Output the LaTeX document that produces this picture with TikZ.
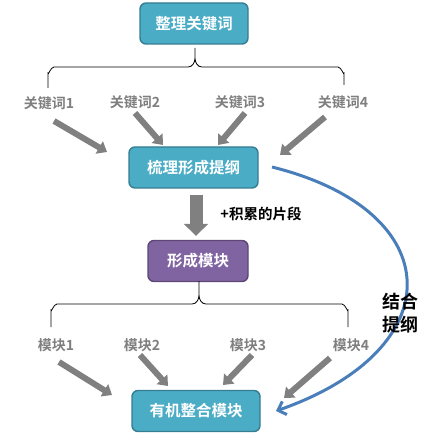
\documentclass[tikz,border=0pt]{standalone}
\usepackage{fontspec}
\setmainfont{Noto Sans CJK SC}[BoldFont={Noto Sans CJK SC Bold}]
\usetikzlibrary{arrows.meta}
\definecolor{tealfill}{HTML}{4BACC6}
\definecolor{tealline}{HTML}{357D91}
\definecolor{purfill}{HTML}{8064A2}
\definecolor{purline}{HTML}{5C4776}
\definecolor{grayarr}{HTML}{808080}
\definecolor{graytxt}{HTML}{7F7F7F}
\definecolor{bluecurve}{HTML}{4A7EBB}
\tikzset{
  box/.style={draw=tealline, fill=tealfill, line width=1.4pt, rounded corners=6pt,
    text=white, font=\bfseries\fontsize{15.5}{18}\selectfont, minimum height=41pt, inner sep=0pt},
  pbox/.style={box, draw=purline, fill=purfill},
  lbl/.style={text=graytxt, font=\bfseries\fontsize{14}{16}\selectfont, inner sep=0pt},
  garrow/.style={draw=grayarr, line width=6pt, -{Triangle[length=9pt,width=14pt]}},
  brace/.style={draw=black, line width=0.8pt},
}
\begin{document}
\begin{tikzpicture}[x=1pt,y=-1pt]
\useasboundingbox (0,0) rectangle (433,435);
% boxes
\node[box, minimum width=108pt] (b1) at (194,23.5) {整理关键词};
\node[box, minimum width=129pt] (b2) at (193.5,167.5) {梳理形成提纲};
\node[pbox, minimum width=100pt] (b3) at (198,261) {形成模块};
\node[box, minimum width=128pt] (b4) at (196,411) {有机整合模块};
% braces
\draw[brace] (48,88) -- (48,73) to[out=-90,in=180] (54,67) -- (188,67)
  to[out=0,in=-90] (195,58) -- (195,48) -- (195,58) to[out=-90,in=180] (202,67)
  -- (338,67) to[out=0,in=-90] (344,73) -- (344,85);
\draw[brace] (51,327) -- (51,310) to[out=-90,in=180] (57,304) -- (192,304)
  to[out=0,in=-90] (199,295) -- (199,281) -- (199,295) to[out=-90,in=180] (206,304)
  -- (342,304) to[out=0,in=-90] (348,310) -- (348,327);
% keyword labels
\node[lbl] (k1) at (49,103) {关键词1};
\node[lbl] (k2) at (135,102) {关键词2};
\node[lbl] (k3) at (240,102) {关键词3};
\node[lbl] (k4) at (343,102) {关键词4};
\node[lbl] (m1) at (56,345) {模块1};
\node[lbl] (m2) at (142,345) {模块2};
\node[lbl] (m3) at (248,345) {模块3};
\node[lbl] (m4) at (351,345) {模块4};
% arrow endpoints
\coordinate (a1s) at (54,121);  \coordinate (a1e) at (107,152);
\coordinate (a2s) at (135,113); \coordinate (a2e) at (163,145);
\coordinate (a3s) at (245,113); \coordinate (a3e) at (218,145);
\coordinate (a4s) at (325,117); \coordinate (a4e) at (280,155);
\coordinate (c1s) at (59,362);  \coordinate (c1e) at (112,395);
\coordinate (c2s) at (140,355); \coordinate (c2e) at (168,386);
\coordinate (c3s) at (252,355); \coordinate (c3e) at (223,385);
\coordinate (c4s) at (330,358); \coordinate (c4e) at (284,398);
\foreach \p in {a1,a2,a3,a4,c1,c2,c3,c4}{
  \draw[garrow] (\p s) -- (\p e);
}
% down arrow
\draw[draw=grayarr, line width=13pt, -{Triangle[length=12pt,width=24pt]},
  shorten <=6pt, shorten >=4pt] (b2.south -| 196,0) -- (b3.north -| 196,0);
\node[text=black, font=\bfseries\fontsize{14.5}{16}\selectfont, inner sep=0pt] (acc) at (261,214) {+积累的片段};
% blue curve
\coordinate (cs) at (272,167);
\coordinate (ce) at (276,411);
\draw[draw=bluecurve, line width=3pt, -{Straight Barb[length=7pt,width=14pt]}]
  (cs) .. controls (449,211) and (453,349) .. (ce);
\node[text=black, font=\bfseries\fontsize{18}{23}\selectfont, align=center, inner sep=0pt] (comb) at (400,313) {结合\\提纲};
\end{tikzpicture}
\end{document}
